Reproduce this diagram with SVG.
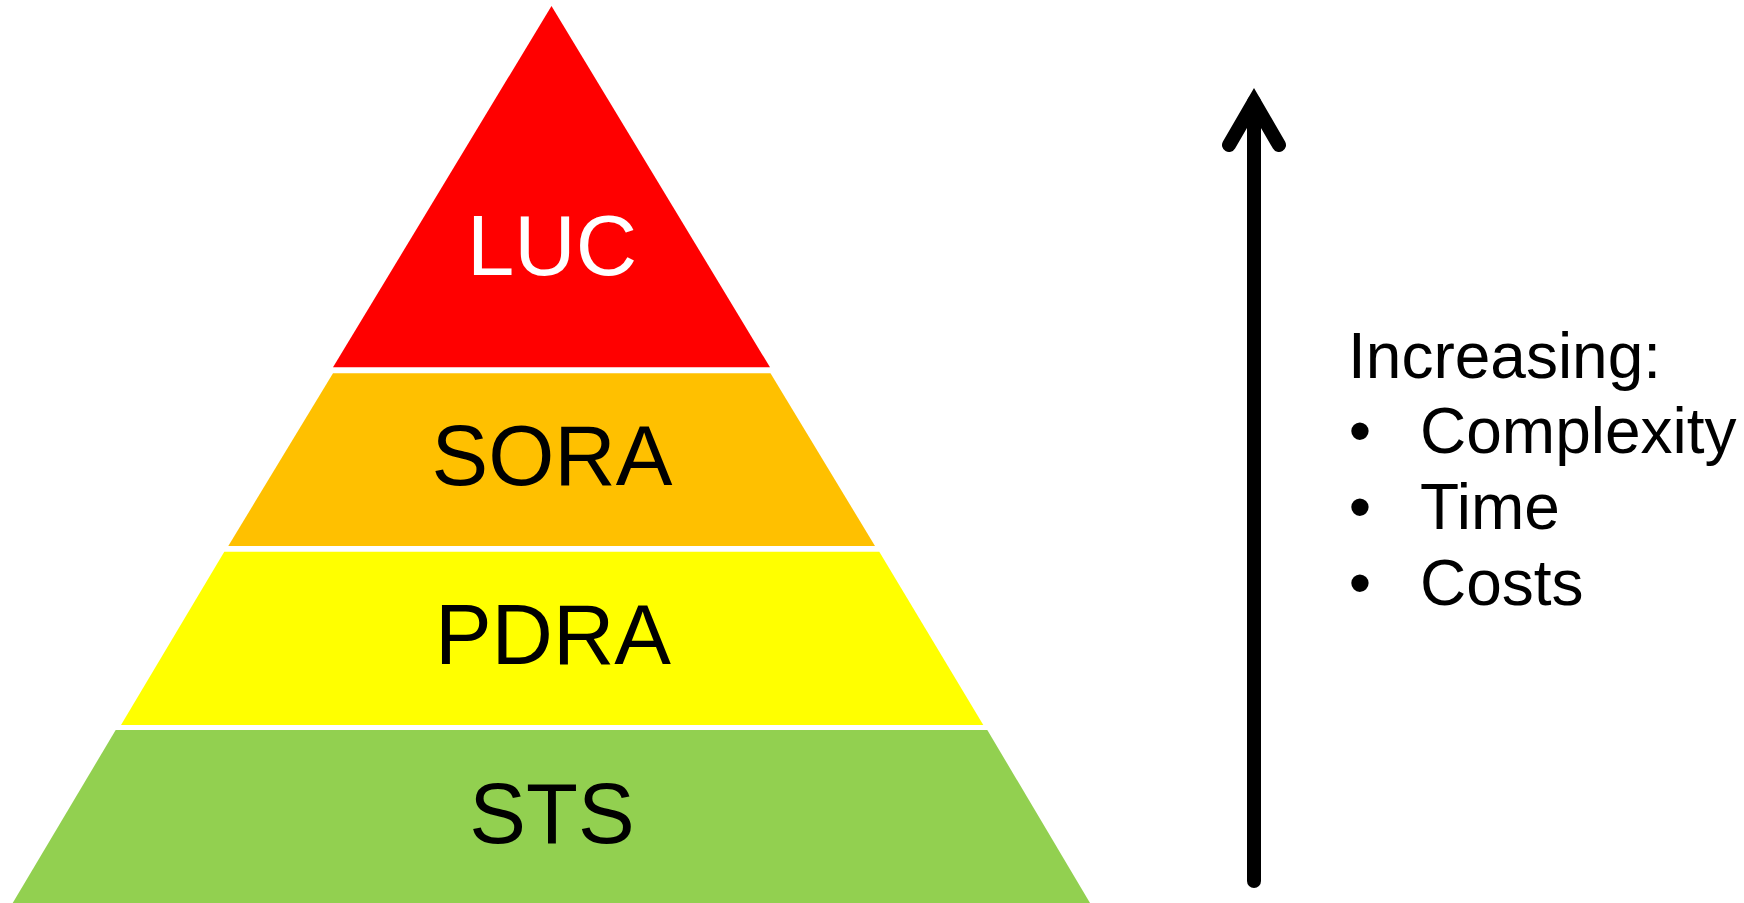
<svg xmlns="http://www.w3.org/2000/svg" width="1744" height="903" viewBox="0 0 1744 903">
<style>
.lbl{font-family:"Liberation Sans",Arial,sans-serif;font-size:85px;text-anchor:middle}
.side{font-family:"Liberation Sans",Arial,sans-serif;font-size:64px;fill:#000}
</style>
<defs>
<marker id="chev" markerUnits="userSpaceOnUse" orient="auto" overflow="visible" refX="0" refY="0" markerWidth="10" markerHeight="10">
<path d="M-43,-25 L0,0 L-43,25" fill="none" stroke="#000" stroke-width="14" stroke-linecap="round" stroke-linejoin="miter"/>
</marker>
</defs>
<rect width="1744" height="903" fill="#fff"/>
<g id="luc">
<polygon points="551.5,6 770,367.3 333,367.3" fill="#FF0000"/>
<text class="lbl" x="552" y="275" fill="#fff">LUC</text>
</g>
<g id="sora">
<polygon points="333,373.3 770.5,373.3 875,546 228.3,546" fill="#FFC000"/>
<text class="lbl" x="552" y="485" fill="#000">SORA</text>
</g>
<g id="pdra">
<polygon points="224.3,551.7 879.3,551.7 983.3,725 121,725" fill="#FFFF00"/>
<text class="lbl" x="553" y="664" fill="#000">PDRA</text>
</g>
<g id="sts">
<polygon points="115.7,730 987.3,730 1090,903 12.7,903" fill="#92D050"/>
<text class="lbl" x="552" y="843" fill="#000">STS</text>
</g>
<g id="connectors">
<path d="M1254,881 L1254,102" fill="none" stroke="#000" stroke-width="14" stroke-linecap="round" marker-end="url(#chev)"/>
</g>
<g id="legend">
<text class="side" x="1348" y="378">Increasing:</text>
<text class="side" x="1360" y="453" text-anchor="middle">•</text>
<text class="side" x="1420" y="453">Complexity</text>
<text class="side" x="1360" y="529" text-anchor="middle">•</text>
<text class="side" x="1420" y="529">Time</text>
<text class="side" x="1360" y="605" text-anchor="middle">•</text>
<text class="side" x="1420" y="605">Costs</text>
</g>
</svg>
